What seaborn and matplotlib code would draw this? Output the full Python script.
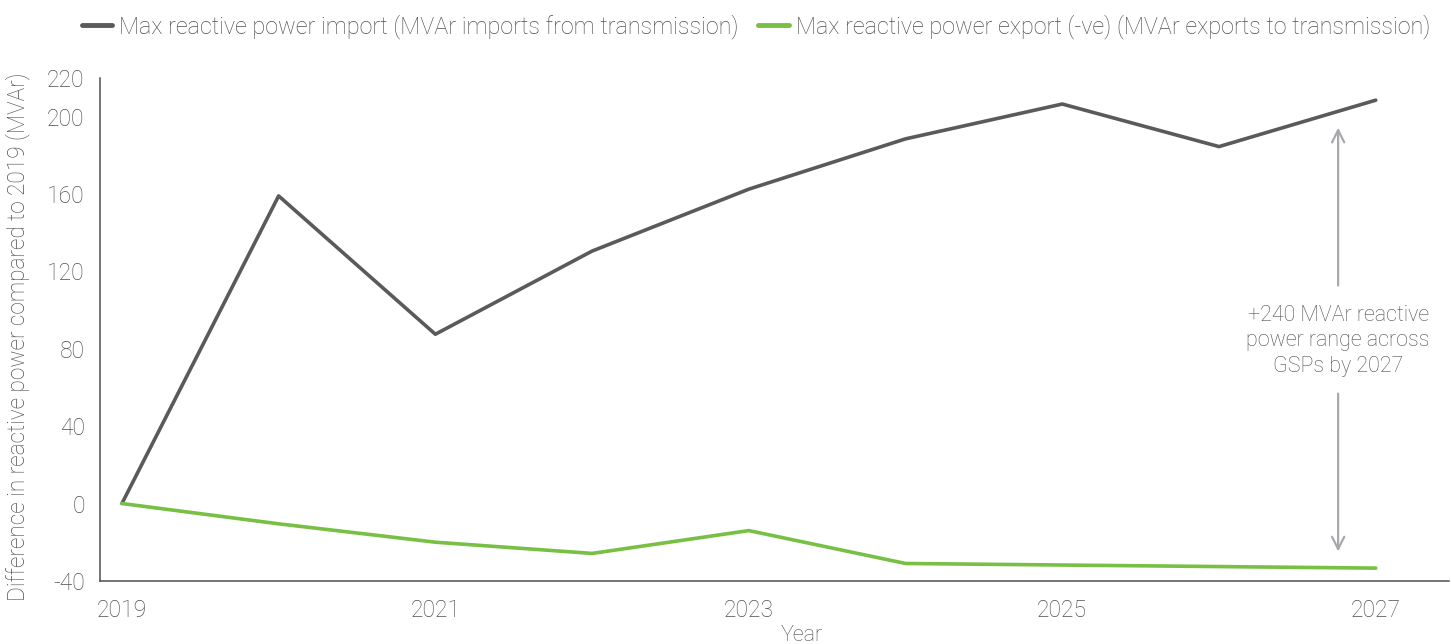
import matplotlib
matplotlib.use("Agg")
import matplotlib.pyplot as plt
import seaborn as sns
import pandas as pd

years = [2019, 2020, 2021, 2022, 2023, 2024, 2025, 2026, 2027]
import_vals = [0, 159, 87.5, 130.5, 162.5, 188.5, 206.5, 184.5, 208.5]
export_vals = [0, -10.5, -20, -25.8, -14, -31, -31.8, -32.6, -33.4]
series_names = ["Max reactive power import (MVAr imports from transmission)",
                "Max reactive power export (-ve) (MVAr exports to transmission)"]
xticks = [2019, 2021, 2023, 2025, 2027]
yticks = [-40, 0, 40, 80, 120, 160, 200, 220]
annot_text = "+240 MVAr reactive\npower range across\nGSPs by 2027"

TEXT = "#4e4f51"
GRAY = "#5a5a5c"
GREEN = "#77c043"
ARROW = "#a7a9ac"

sns.set_theme(style="white")
plt.rcParams['font.family'] = ['Roboto', 'DejaVu Sans']
plt.rcParams['font.weight'] = 'light'

df = pd.DataFrame({
    "Year": years * 2,
    "value": import_vals + export_vals,
    "series": [series_names[0]] * len(years) + [series_names[1]] * len(years),
})

fig = plt.figure(figsize=(14.51, 6.44), dpi=100)
ax = fig.add_axes([0.0689, 0.098, 0.93, 0.781])

sns.lineplot(data=df, x="Year", y="value", hue="series",
             palette=[GRAY, GREEN], linewidth=2.6, ax=ax, legend=True)

ax.set_xlim(2018.86, 2027.47)
ax.set_ylim(-40, 220)
ax.set_xticks(xticks)
ax.set_xticklabels([str(x) for x in xticks])
ax.set_yticks(yticks)
ax.set_yticklabels([str(y) for y in yticks])

for s in ["top", "right"]:
    ax.spines[s].set_visible(False)
for s in ["left", "bottom"]:
    ax.spines[s].set_color(TEXT)
    ax.spines[s].set_linewidth(1.1)

ax.tick_params(axis="both", direction="in", length=10, width=0.8, color=TEXT,
               labelsize=16.5, labelcolor=TEXT)
ax.tick_params(axis="x", pad=13)
ax.tick_params(axis="y", pad=11)

ax.set_xlabel("Year", fontsize=15.5, color=TEXT, fontweight='light')
ax.xaxis.set_label_coords(0.52, -0.087)
ax.set_ylabel("Difference in reactive power compared to 2019 (MVAr)",
              fontsize=16.3, color=TEXT, fontweight='light')
ax.yaxis.set_label_coords(-0.052, 0.485)

handles, labels = ax.get_legend_handles_labels()
leg = ax.legend(handles, labels, loc="upper center", bbox_to_anchor=(0.486, 1.145),
                ncol=2, frameon=False, fontsize=16.8, handlelength=1.3,
                handletextpad=0.3, columnspacing=0.85, borderaxespad=0)
for t in leg.get_texts():
    t.set_color(TEXT)
    t.set_fontweight('light')
for line in leg.get_lines():
    line.set_linewidth(3.5)

ax_x = 2026.76
ax.annotate("", xy=(ax_x, 194.3), xytext=(ax_x, 112.7),
            arrowprops=dict(arrowstyle="->", color=ARROW, lw=1.6, mutation_scale=22,
                            shrinkA=0, shrinkB=0))
ax.annotate("", xy=(ax_x, -24.8), xytext=(ax_x, 56.8),
            arrowprops=dict(arrowstyle="->", color=ARROW, lw=1.6, mutation_scale=22,
                            shrinkA=0, shrinkB=0))
ax.text(ax_x, 84.2, annot_text, ha="center", va="center", fontsize=15.5,
        color=TEXT, fontweight='light', linespacing=1.28)

fig.savefig("out.png", dpi=100)
